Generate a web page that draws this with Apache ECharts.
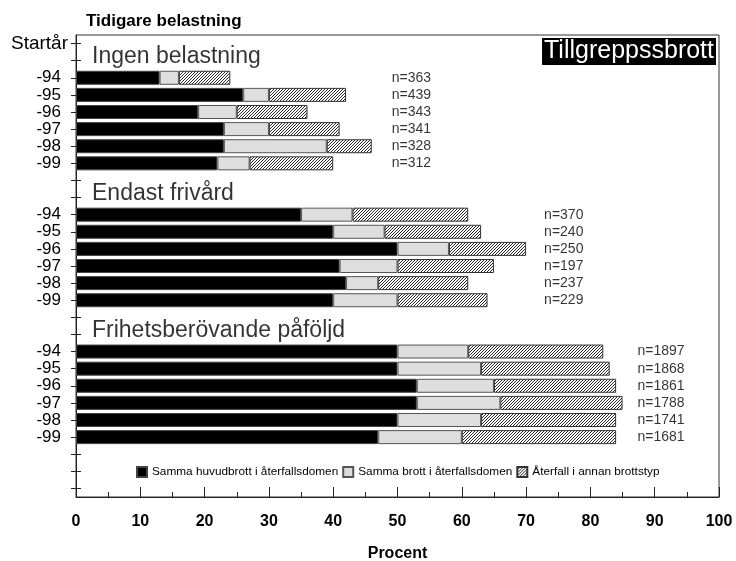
<!DOCTYPE html>
<html>
<head>
<meta charset="utf-8">
<script src="https://cdn.jsdelivr.net/npm/echarts@6/dist/echarts.min.js"></script>
<style>
  html, body { margin: 0; padding: 0; background: #fff; }
  #main { width: 736px; height: 561px; }
</style>
</head>
<body>
<div id="main"></div>
<script>
var FONT = "'Liberation Sans', Arial, sans-serif";

// start years within each group
var years = ["-94", "-95", "-96", "-97", "-98", "-99"];
var groups = ["Ingen belastning", "Endast frivård", "Frihetsberövande påföljd"];
var seriesNames = ["Samma huvudbrott i återfallsdomen", "Samma brott i återfallsdomen", "Återfall i annan brottstyp"];

// percent, one row per group
var sameMain = [
  [13, 26, 19, 23, 23, 22],
  [35, 40, 50, 41, 42, 40],
  [50, 50, 53, 53, 50, 47]
];
var sameCrime = [
  [3, 4, 6, 7, 16, 5],
  [8, 8, 8, 9, 5, 10],
  [11, 13, 12, 13, 13, 13]
];
var otherType = [
  [8, 12, 11, 11, 7, 13],
  [18, 15, 12, 15, 14, 14],
  [21, 20, 19, 19, 21, 24]
];
var nCounts = [
  [363, 439, 343, 341, 328, 312],
  [370, 240, 250, 197, 237, 229],
  [1897, 1868, 1861, 1788, 1741, 1681]
];

// build the category rows: Startår, then per group a title row, 6 years, a blank
var rows = ["Startår"];
var titleRow = [];
var firstRow = [];
groups.forEach(function (g, i) {
  titleRow.push(rows.length);
  rows.push("");
  firstRow.push(rows.length);
  years.forEach(function (y) { rows.push(y); });
  rows.push("");
});
rows.push("", "");

function fill(src) {
  var out = rows.map(function () { return "-"; });
  src.forEach(function (vals, g) {
    vals.forEach(function (v, k) { out[firstRow[g] + k] = v; });
  });
  return out;
}

function hatch() {
  var s = 3;
  var c = document.createElement("canvas");
  c.width = s; c.height = s;
  var ctx = c.getContext("2d");
  ctx.fillStyle = "#fff";
  ctx.fillRect(0, 0, s, s);
  ctx.strokeStyle = "#111";
  ctx.lineWidth = 0.9;
  ctx.beginPath();
  ctx.moveTo(0, s); ctx.lineTo(s, 0);
  ctx.moveTo(-1, 1); ctx.lineTo(1, -1);
  ctx.moveTo(s - 1, s + 1); ctx.lineTo(s + 1, s - 1);
  ctx.stroke();
  return c;
}

// n= labels, placed just right of the longest bar in the group
var nDist = [20, 18, 15];
var nData = [];
nCounts.forEach(function (arr, g) {
  var max = 0;
  arr.forEach(function (n, k) {
    max = Math.max(max, sameMain[g][k] + sameCrime[g][k] + otherType[g][k]);
  });
  arr.forEach(function (n, k) {
    nData.push({ value: [max, firstRow[g] + k], name: "n=" + n, label: { distance: nDist[g] } });
  });
});

var titleData = groups.map(function (g, i) {
  return { value: [0, titleRow[i]], name: g };
});

var chartDom = document.getElementById("main");
var myChart = echarts.init(chartDom);

var option = {
  animation: false,
  textStyle: { fontFamily: FONT },
  title: [
    {
      text: "Tidigare belastning",
      left: 86, top: 13, padding: 0,
      textStyle: { fontFamily: FONT, fontSize: 17, fontWeight: "bold", color: "#000" }
    },
    {
      text: "Tillgreppssbrott",
      right: 20, top: 38,
      padding: [1, 2],
      backgroundColor: "#000",
      textStyle: { fontFamily: FONT, fontSize: 25, fontWeight: "normal", color: "#fff" }
    }
  ],
  legend: {
    data: seriesNames,
    left: 136, top: 466, padding: 0,
    icon: "rect",
    itemWidth: 10, itemHeight: 10, itemGap: 4,
    textStyle: { fontFamily: FONT, fontSize: 11.8, color: "#000" }
  },
  grid: {
    left: 76, right: 17, top: 35, bottom: 64,
    outerBoundsMode: "none",
    show: true, borderColor: "#333", borderWidth: 1, backgroundColor: "#fff"
  },
  xAxis: {
    type: "value", min: 0, max: 100, interval: 10,
    axisLine: { show: true, lineStyle: { color: "#222" } },
    axisTick: { show: true, inside: true, length: 10, lineStyle: { color: "#222" } },
    minorTick: { show: true, splitNumber: 2, length: 5, lineStyle: { color: "#222" } },
    splitLine: { show: false },
    axisLabel: { fontFamily: FONT, fontSize: 16, fontWeight: "bold", color: "#000", margin: 17 },
    name: "Procent", nameLocation: "middle", nameGap: 49,
    nameTextStyle: { fontFamily: FONT, fontSize: 16, fontWeight: "bold", color: "#000" }
  },
  yAxis: [
    {
      type: "category", data: rows, inverse: true, position: "left",
      axisLine: { show: true, onZero: false, lineStyle: { color: "#222" } },
      axisTick: { show: true, alignWithLabel: true, interval: 0, length: 5, lineStyle: { color: "#222" } },
      splitLine: { show: false },
      axisLabel: {
        interval: 0, margin: 8,
        formatter: function (v) {
          if (!v) return "";
          return v === "Startår" ? "{s|" + v + "}" : "{a|" + v + "}";
        },
        rich: {
          s: { fontFamily: FONT, fontSize: 19, color: "#000", padding: [0, 0, 0, 0] },
          a: { fontFamily: FONT, fontSize: 17, color: "#000", padding: [0, 7, 0, 0] }
        }
      }
    },
    {
      type: "category", data: rows, inverse: true, position: "left",
      axisLine: { show: false },
      axisTick: { show: true, inside: true, alignWithLabel: true, interval: 0, length: 5, lineStyle: { color: "#222" } },
      axisLabel: { show: false },
      splitLine: { show: false }
    }
  ],
  series: [
    {
      name: seriesNames[0], type: "bar", stack: "t", barWidth: 14,
      itemStyle: { color: "#000", borderColor: "#444", borderWidth: 1 },
      data: fill(sameMain)
    },
    {
      name: seriesNames[1], type: "bar", stack: "t", barWidth: 14,
      itemStyle: { color: "#dedede", borderColor: "#555", borderWidth: 1 },
      data: fill(sameCrime)
    },
    {
      name: seriesNames[2], type: "bar", stack: "t", barWidth: 14,
      itemStyle: { color: { image: hatch(), repeat: "repeat" }, borderColor: "#333", borderWidth: 1 },
      data: fill(otherType)
    },
    {
      name: "n", type: "scatter", symbolSize: 0, silent: true,
      label: {
        show: true, position: "right", formatter: "{b}",
        fontFamily: FONT, fontSize: 14, color: "#000"
      },
      data: nData
    },
    {
      name: "groups", type: "scatter", symbolSize: 0, silent: true,
      label: {
        show: true, position: "right", distance: 16, offset: [0, -4], formatter: "{b}",
        fontFamily: FONT, fontSize: 23, color: "#000"
      },
      data: titleData
    }
  ]
};

option && myChart.setOption(option);
</script>
</body>
</html>
